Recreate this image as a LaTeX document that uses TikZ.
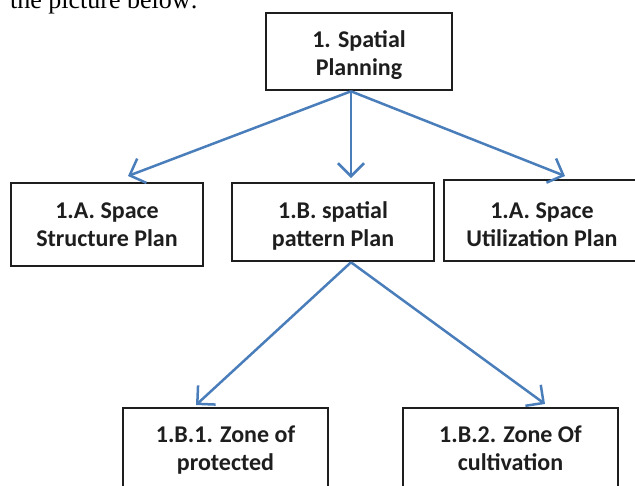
\documentclass[tikz,border=0pt]{standalone}
\usepackage{fontspec}
\setmainfont{Carlito}
\newfontfamily\leadfont{Liberation Serif}
\usetikzlibrary{arrows.meta}
\definecolor{arrowblue}{RGB}{74,126,187}
\definecolor{boxline}{RGB}{30,30,30}

\begin{document}
\begin{tikzpicture}[
        x=1pt, y=-1pt,
        every node/.style={font=\fontsize{24}{28}\selectfont\bfseries, text=boxline},
        box/.style={draw=boxline, line width=2.3pt, fill=white, align=center, anchor=north, inner sep=4pt},
        arrow/.style={-{Straight Barb[length=13pt, width=26pt]}, draw=arrowblue, line width=2.5pt}
    ]
    \useasboundingbox (0,0) rectangle (635,485);
    \clip (0,0) rectangle (635,485);

    % Nodes -----------------------------------------------
    \node[anchor=base west, inner sep=0pt, text=black,
          font=\leadfont\fontsize{26}{30}\selectfont] (lead) at (10,8) {the picture below:};
    \node[box, minimum width=186pt, text height=58pt, text depth=11pt] (plan) at (359,12) {1. Spatial\\Planning};
    \node[box, minimum width=192pt, text height=59pt, text depth=16pt] (structure) at (107,182) {1.A. Space\\Structure Plan};
    \node[box, minimum width=202pt, text height=59pt, text depth=11pt] (pattern) at (333,182) {1.B. spatial\\pattern Plan};
    \node[box, minimum width=196pt, text height=62pt, text depth=11pt] (utilization) at (542,179) {1.A. Space\\Utilization Plan};
    \node[box, minimum width=205pt, text height=58pt, text depth=27pt] (protected) at (225.5,407) {1.B.1. Zone of\\protected};
    \node[box, minimum width=215pt, text height=58pt, text depth=27pt] (cultivation) at (510.5,407) {1.B.2. Zone Of\\cultivation};

    % plan to its three parts
    \draw[arrow] ([xshift=-8pt]plan.south) -- ([xshift=21pt,yshift=6pt]structure.north);
    \draw[arrow] ([xshift=-8pt]plan.south) -- ([xshift=18pt,yshift=4pt]pattern.north);
    \draw[arrow] ([xshift=-8pt]plan.south) -- ([xshift=23pt,yshift=3pt]utilization.north);

    % pattern plan to its zones
    \draw[arrow] ([xshift=18pt]pattern.south) -- ([xshift=-29.5pt,yshift=2pt]protected.north);
    \draw[arrow] ([xshift=18pt]pattern.south) -- ([xshift=34.5pt,yshift=3pt]cultivation.north);
\end{tikzpicture}
\end{document}
